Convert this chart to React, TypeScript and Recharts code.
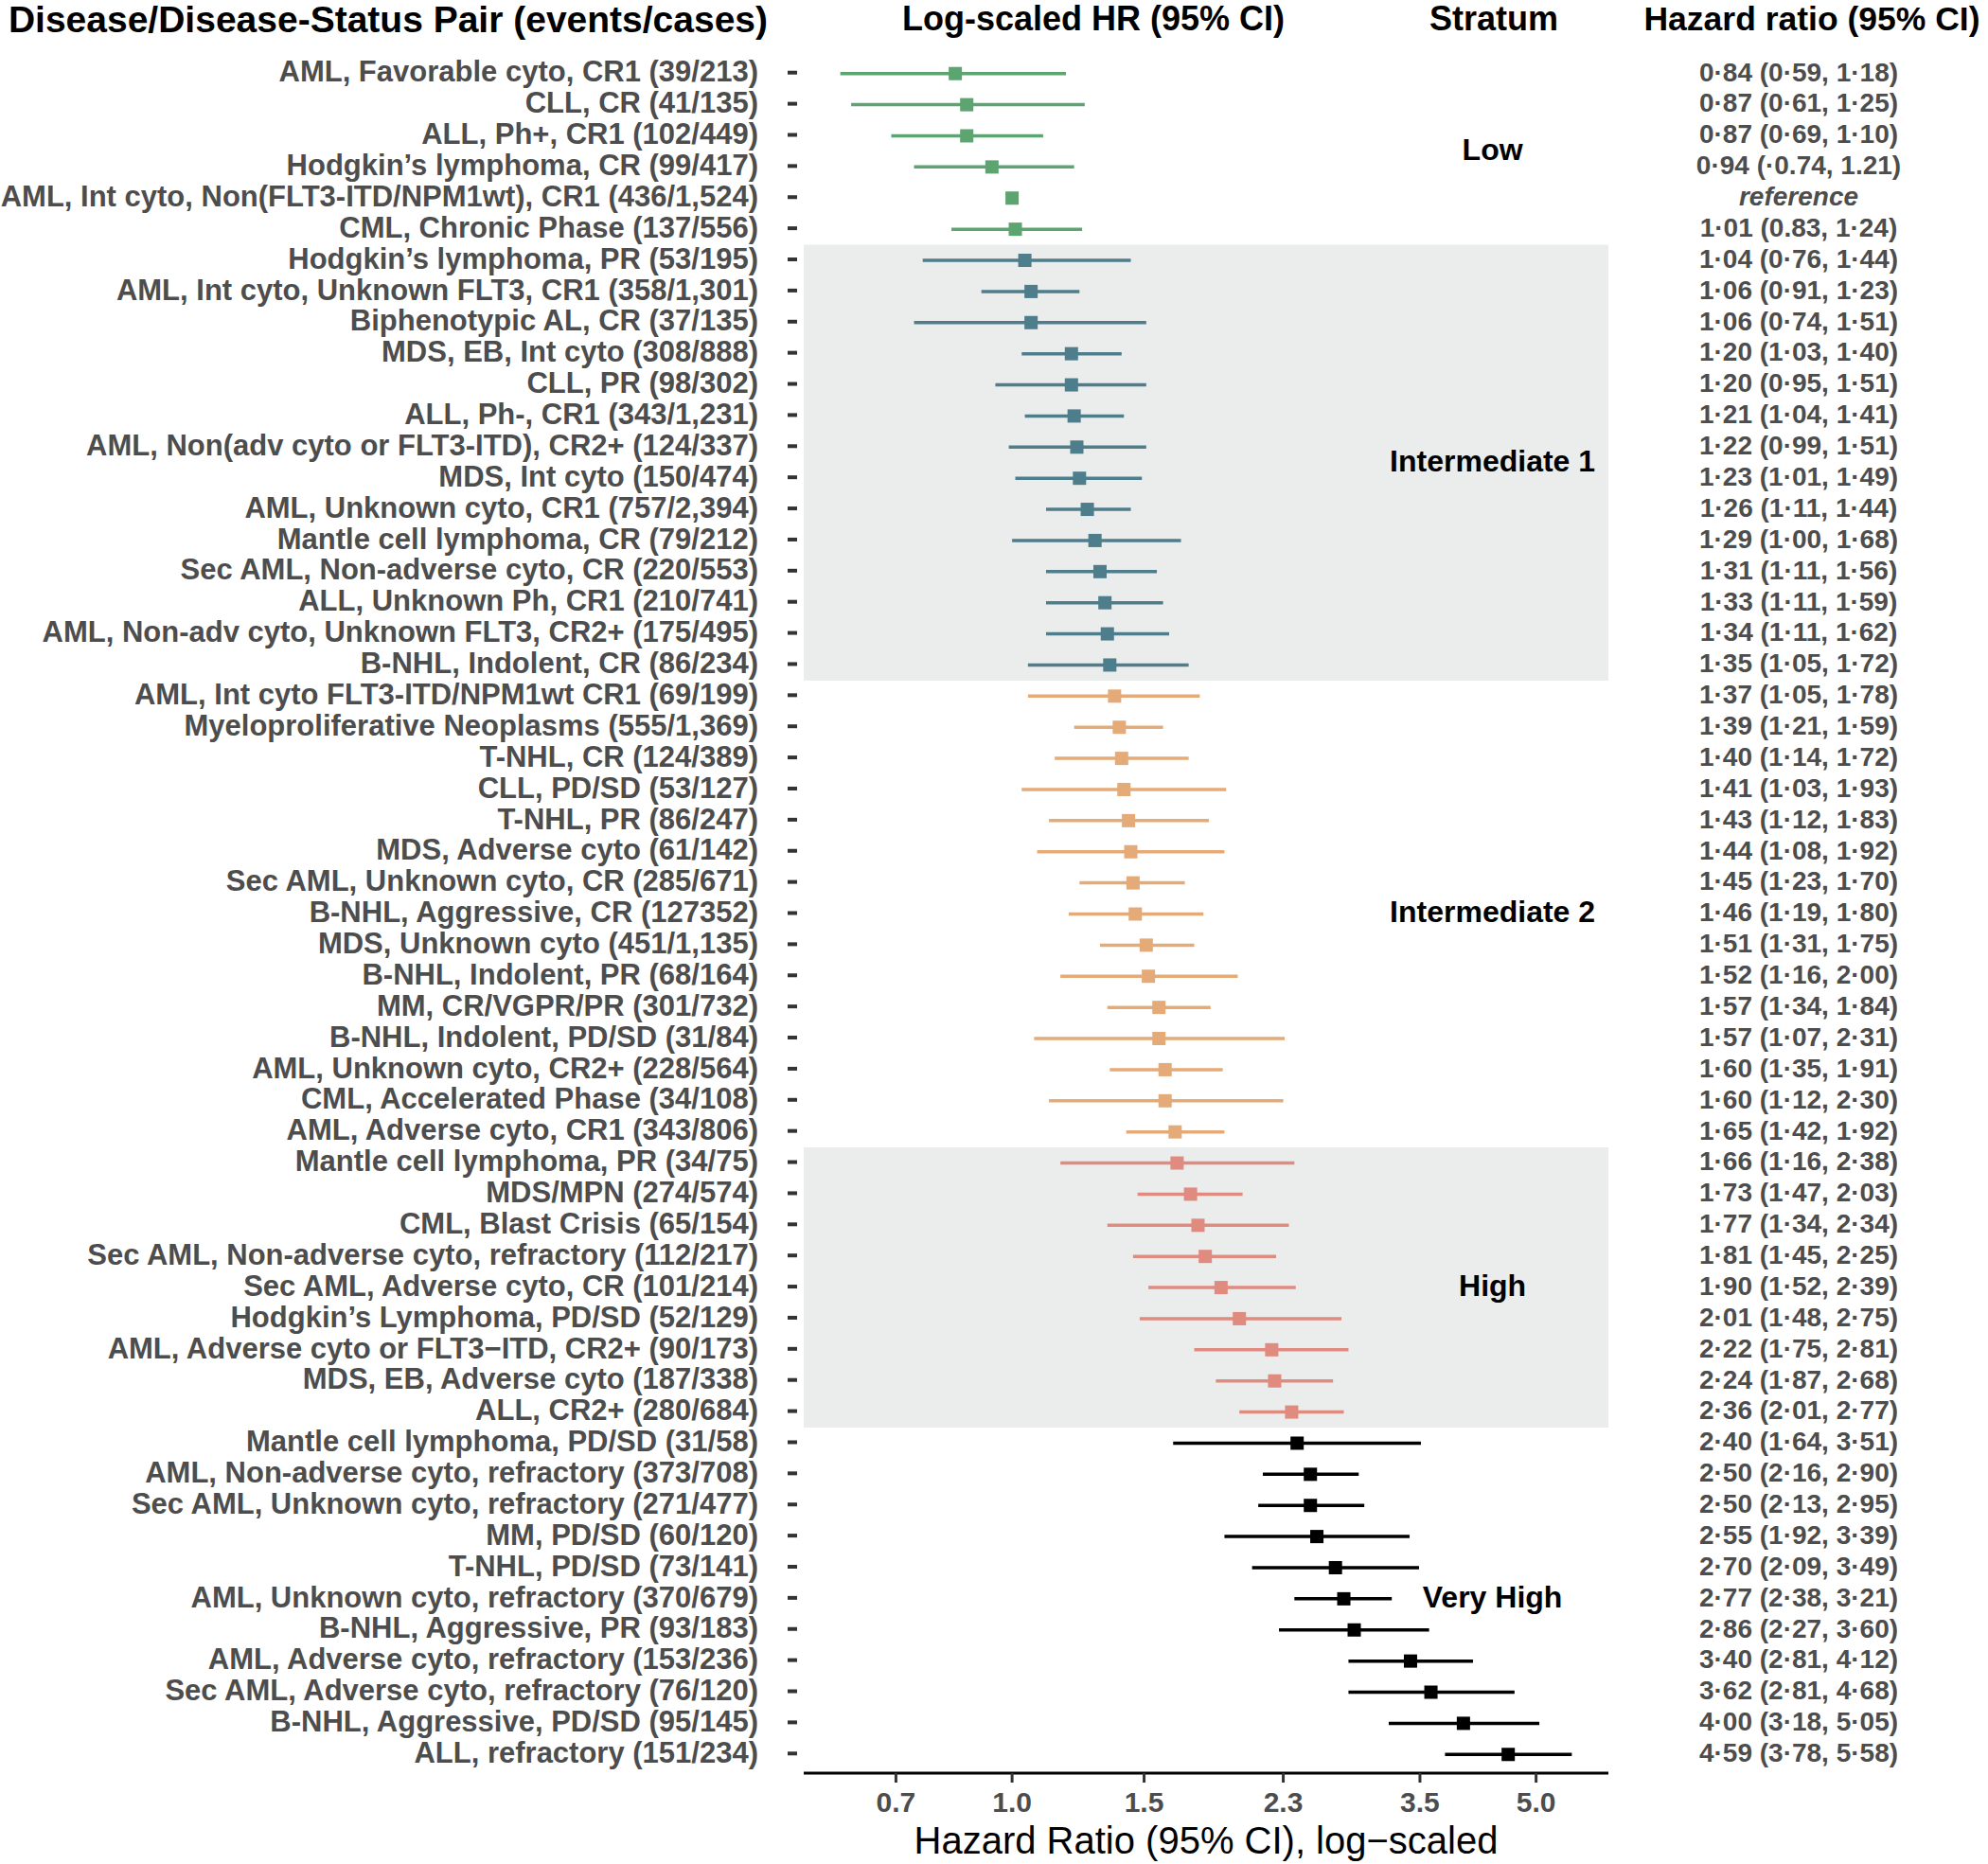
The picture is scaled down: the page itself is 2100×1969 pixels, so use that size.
import React from "react";
import {
  ComposedChart,
  Scatter,
  ErrorBar,
  XAxis,
  YAxis,
  ReferenceArea,
} from "recharts";

const pairLabels = [
  "AML, Favorable cyto, CR1 (39/213)",
  "CLL, CR (41/135)",
  "ALL, Ph+, CR1 (102/449)",
  "Hodgkin’s lymphoma, CR (99/417)",
  "AML, Int cyto, Non(FLT3-ITD/NPM1wt), CR1 (436/1,524)",
  "CML, Chronic Phase (137/556)",
  "Hodgkin’s lymphoma, PR (53/195)",
  "AML, Int cyto, Unknown FLT3, CR1 (358/1,301)",
  "Biphenotypic AL, CR (37/135)",
  "MDS, EB, Int cyto (308/888)",
  "CLL, PR (98/302)",
  "ALL, Ph-, CR1 (343/1,231)",
  "AML, Non(adv cyto or FLT3-ITD), CR2+ (124/337)",
  "MDS, Int cyto (150/474)",
  "AML, Unknown cyto, CR1 (757/2,394)",
  "Mantle cell lymphoma, CR (79/212)",
  "Sec AML, Non-adverse cyto, CR (220/553)",
  "ALL, Unknown Ph, CR1 (210/741)",
  "AML, Non-adv cyto, Unknown FLT3, CR2+ (175/495)",
  "B-NHL, Indolent, CR (86/234)",
  "AML, Int cyto FLT3-ITD/NPM1wt CR1 (69/199)",
  "Myeloproliferative Neoplasms (555/1,369)",
  "T-NHL, CR (124/389)",
  "CLL, PD/SD (53/127)",
  "T-NHL, PR (86/247)",
  "MDS, Adverse cyto (61/142)",
  "Sec AML, Unknown cyto, CR (285/671)",
  "B-NHL, Aggressive, CR (127352)",
  "MDS, Unknown cyto (451/1,135)",
  "B-NHL, Indolent, PR (68/164)",
  "MM, CR/VGPR/PR (301/732)",
  "B-NHL, Indolent, PD/SD (31/84)",
  "AML, Unknown cyto, CR2+ (228/564)",
  "CML, Accelerated Phase (34/108)",
  "AML, Adverse cyto, CR1 (343/806)",
  "Mantle cell lymphoma, PR (34/75)",
  "MDS/MPN (274/574)",
  "CML, Blast Crisis (65/154)",
  "Sec AML, Non-adverse cyto, refractory (112/217)",
  "Sec AML, Adverse cyto, CR (101/214)",
  "Hodgkin’s Lymphoma, PD/SD (52/129)",
  "AML, Adverse cyto or FLT3−ITD, CR2+ (90/173)",
  "MDS, EB, Adverse cyto (187/338)",
  "ALL, CR2+ (280/684)",
  "Mantle cell lymphoma, PD/SD (31/58)",
  "AML, Non-adverse cyto, refractory (373/708)",
  "Sec AML, Unknown cyto, refractory (271/477)",
  "MM, PD/SD (60/120)",
  "T-NHL, PD/SD (73/141)",
  "AML, Unknown cyto, refractory (370/679)",
  "B-NHL, Aggressive, PR (93/183)",
  "AML, Adverse cyto, refractory (153/236)",
  "Sec AML, Adverse cyto, refractory (76/120)",
  "B-NHL, Aggressive, PD/SD (95/145)",
  "ALL, refractory (151/234)",
];

const hazardRatio = [
  0.84, 0.87, 0.87, 0.94, 1.0, 1.01,
  1.04, 1.06, 1.06, 1.2, 1.2, 1.21, 1.22, 1.23, 1.26, 1.29, 1.31, 1.33, 1.34, 1.35,
  1.37, 1.39, 1.4, 1.41, 1.43, 1.44, 1.45, 1.46, 1.51, 1.52, 1.57, 1.57, 1.6, 1.6, 1.65,
  1.66, 1.73, 1.77, 1.81, 1.9, 2.01, 2.22, 2.24, 2.36,
  2.4, 2.5, 2.5, 2.55, 2.7, 2.77, 2.86, 3.4, 3.62, 4.0, 4.59,
];

const lowerCI: (number | null)[] = [
  0.59, 0.61, 0.69, 0.74, null, 0.83,
  0.76, 0.91, 0.74, 1.03, 0.95, 1.04, 0.99, 1.01, 1.11, 1.0, 1.11, 1.11, 1.11, 1.05,
  1.05, 1.21, 1.14, 1.03, 1.12, 1.08, 1.23, 1.19, 1.31, 1.16, 1.34, 1.07, 1.35, 1.12, 1.42,
  1.16, 1.47, 1.34, 1.45, 1.52, 1.48, 1.75, 1.87, 2.01,
  1.64, 2.16, 2.13, 1.92, 2.09, 2.38, 2.27, 2.81, 2.81, 3.18, 3.78,
];

const upperCI: (number | null)[] = [
  1.18, 1.25, 1.1, 1.21, null, 1.24,
  1.44, 1.23, 1.51, 1.4, 1.51, 1.41, 1.51, 1.49, 1.44, 1.68, 1.56, 1.59, 1.62, 1.72,
  1.78, 1.59, 1.72, 1.93, 1.83, 1.92, 1.7, 1.8, 1.75, 2.0, 1.84, 2.31, 1.91, 2.3, 1.92,
  2.38, 2.03, 2.34, 2.25, 2.39, 2.75, 2.81, 2.68, 2.77,
  3.51, 2.9, 2.95, 3.39, 3.49, 3.21, 3.6, 4.12, 4.68, 5.05, 5.58,
];

const hrText = [
  "0·84 (0·59, 1·18)", "0·87 (0·61, 1·25)", "0·87 (0·69, 1·10)", "0·94 (·0.74, 1.21)",
  "reference", "1·01 (0.83, 1·24)",
  "1·04 (0·76, 1·44)", "1·06 (0·91, 1·23)", "1·06 (0·74, 1·51)", "1·20 (1·03, 1·40)",
  "1·20 (0·95, 1·51)", "1·21 (1·04, 1·41)", "1·22 (0·99, 1·51)", "1·23 (1·01, 1·49)",
  "1·26 (1·11, 1·44)", "1·29 (1·00, 1·68)", "1·31 (1·11, 1·56)", "1·33 (1·11, 1·59)",
  "1·34 (1·11, 1·62)", "1·35 (1·05, 1·72)",
  "1·37 (1·05, 1·78)", "1·39 (1·21, 1·59)", "1·40 (1·14, 1·72)", "1·41 (1·03, 1·93)",
  "1·43 (1·12, 1·83)", "1·44 (1·08, 1·92)", "1·45 (1·23, 1·70)", "1·46 (1·19, 1·80)",
  "1·51 (1·31, 1·75)", "1·52 (1·16, 2·00)", "1·57 (1·34, 1·84)", "1·57 (1·07, 2·31)",
  "1·60 (1·35, 1·91)", "1·60 (1·12, 2·30)", "1·65 (1·42, 1·92)",
  "1·66 (1·16, 2·38)", "1·73 (1·47, 2·03)", "1·77 (1·34, 2·34)", "1·81 (1·45, 2·25)",
  "1·90 (1·52, 2·39)", "2·01 (1·48, 2·75)", "2·22 (1·75, 2·81)", "2·24 (1·87, 2·68)",
  "2·36 (2·01, 2·77)",
  "2·40 (1·64, 3·51)", "2·50 (2·16, 2·90)", "2·50 (2·13, 2·95)", "2·55 (1·92, 3·39)",
  "2·70 (2·09, 3·49)", "2·77 (2·38, 3·21)", "2·86 (2·27, 3·60)", "3·40 (2·81, 4·12)",
  "3·62 (2·81, 4·68)", "4·00 (3·18, 5·05)", "4·59 (3·78, 5·58)",
];

const strata = ["Low", "Intermediate 1", "Intermediate 2", "High", "Very High"];
const stratumCounts = [6, 14, 15, 9, 11];
const stratumColors = ["#5ca470", "#4e7d8b", "#e4ab79", "#e08b80", "#000000"];
const shadedStrata = ["Intermediate 1", "High"];
const xTicks = [0.7, 1.0, 1.5, 2.3, 3.5, 5.0];

const FONT = '"Liberation Sans", Arial, Helvetica, sans-serif';

const stratumOf: string[] = strata.flatMap((s, i) => Array(stratumCounts[i]).fill(s));

const rows = pairLabels.map((label, i) => {
  const lo = lowerCI[i];
  const hi = upperCI[i];
  return {
    row: i + 1,
    label,
    hr: hazardRatio[i],
    err: lo == null || hi == null ? [0, 0] : [hazardRatio[i] - lo, hi - hazardRatio[i]],
    stratum: stratumOf[i],
  };
});

// log-scale x domain with 5% expansion like ggplot
const los = lowerCI.filter((v): v is number => v != null);
const his = upperCI.filter((v): v is number => v != null);
const lnMin = Math.log(Math.min(...los));
const lnMax = Math.log(Math.max(...his));
const lnPad = (lnMax - lnMin) * 0.05;
const xDomain = [Math.exp(lnMin - lnPad), Math.exp(lnMax + lnPad)];
const yDomain = [0.4, rows.length + 0.6];
const rowTicks = rows.map((r) => r.row);

const LeftTick = (props: any) => {
  const { x, y, payload } = props;
  return (
    <g>
      <text
        x={x - 48}
        y={y}
        dy="0.28em"
        textAnchor="end"
        fill="#4d4d4d"
        fontSize={31}
        fontWeight={700}
        fontFamily={FONT}
      >
        {pairLabels[payload.value - 1]}
      </text>
      <rect x={x - 17} y={y - 3} width={10} height={4} fill="#333" />
    </g>
  );
};

const RightTick = (props: any) => {
  const { x, y, payload } = props;
  const txt = hrText[payload.value - 1];
  return (
    <text
      x={x + 201}
      y={y}
      dy="0.28em"
      textAnchor="middle"
      fill="#4d4d4d"
      fontSize={28}
      fontWeight={700}
      fontStyle={txt === "reference" ? "italic" : "normal"}
      fontFamily={FONT}
    >
      {txt}
    </text>
  );
};

const BottomTick = (props: any) => {
  const { x, y, payload } = props;
  return (
    <text
      x={x}
      y={y}
      dy={31}
      textAnchor="middle"
      fill="#4d4d4d"
      fontSize={30}
      fontWeight={700}
      fontFamily={FONT}
    >
      {Number(payload.value).toFixed(1)}
    </text>
  );
};

const square = (color: string) => (props: any) => (
  <rect x={props.cx - 7} y={props.cy - 7} width={14} height={14} fill={color} />
);

export default function App() {
  let start = 0;
  const spans = strata.map((s, i) => {
    const span = { name: s, y1: start + 0.5, y2: start + stratumCounts[i] + 0.5 };
    start += stratumCounts[i];
    return span;
  });

  return (
    <div
      style={{
        position: "absolute",
        left: 0,
        top: 0,
        width: 2100,
        height: 1969,
        background: "#fff",
        fontFamily: FONT,
      }}
    >
      <svg
        width={2100}
        height={50}
        style={{ position: "absolute", left: 0, top: 0 }}
        fontFamily={FONT}
        fontWeight={700}
      >
        <text x={410} y={34} textAnchor="middle" fill="#000" fontSize={39}>
          Disease/Disease-Status Pair (events/cases)
        </text>
        <text x={1155} y={32} textAnchor="middle" fill="#000" fontSize={36}>
          Log-scaled HR (95% CI)
        </text>
        <text x={1578} y={32} textAnchor="middle" fill="#000" fontSize={36}>
          Stratum
        </text>
        <text x={1914} y={32} textAnchor="middle" fill="#000" fontSize={35.5}>
          Hazard ratio (95% CI)
        </text>
      </svg>

      <ComposedChart
        width={2100}
        height={1969}
        data={rows}
        margin={{ top: 58, right: 0, bottom: 0, left: 0 }}
      >
        <XAxis
          dataKey="hr"
          type="number"
          scale="log"
          domain={xDomain}
          allowDataOverflow
          ticks={xTicks}
          interval={0}
          height={96}
          tickSize={10}
          tickMargin={0}
          axisLine={{ stroke: "#000", strokeWidth: 3 }}
          tickLine={{ stroke: "#333", strokeWidth: 3 }}
          tick={<BottomTick />}
          label={{
            value: "Hazard Ratio (95% CI), log−scaled",
            position: "insideBottom",
            offset: 11,
            fill: "#000",
            fontSize: 40,
            fontFamily: FONT,
          }}
        />
        <YAxis
          yAxisId="left"
          dataKey="row"
          type="number"
          domain={yDomain}
          reversed
          ticks={rowTicks}
          interval={0}
          width={849}
          axisLine={false}
          tickLine={false}
          tickSize={0}
          tickMargin={0}
          tick={<LeftTick />}
        />
        <YAxis
          yAxisId="right"
          orientation="right"
          dataKey="row"
          type="number"
          domain={yDomain}
          reversed
          ticks={rowTicks}
          interval={0}
          width={401}
          axisLine={false}
          tickLine={false}
          tickSize={0}
          tickMargin={0}
          tick={<RightTick />}
        />

        {spans.map((sp) => (
          <ReferenceArea
            key={sp.name}
            yAxisId="left"
            y1={sp.y1}
            y2={sp.y2}
            fill={shadedStrata.includes(sp.name) ? "#ebecec" : "none"}
            fillOpacity={1}
            stroke="none"
            label={(p: any) => {
              const vb = p.viewBox;
              return (
                <text
                  x={vb.x + vb.width * 0.856}
                  y={vb.y + vb.height / 2}
                  dy="0.28em"
                  textAnchor="middle"
                  fill="#000"
                  fontSize={32}
                  fontWeight={700}
                  fontFamily={FONT}
                >
                  {sp.name}
                </text>
              );
            }}
          />
        ))}

        {strata.map((s, i) => (
          <Scatter
            key={s}
            yAxisId="left"
            data={rows.filter((r) => r.stratum === s)}
            dataKey="hr"
            shape={square(stratumColors[i])}
            isAnimationActive={false}
          >
            <ErrorBar
              dataKey="err"
              direction="x"
              width={0}
              stroke={stratumColors[i]}
              strokeWidth={3.5}
              isAnimationActive={false}
            />
          </Scatter>
        ))}
      </ComposedChart>
    </div>
  );
}
